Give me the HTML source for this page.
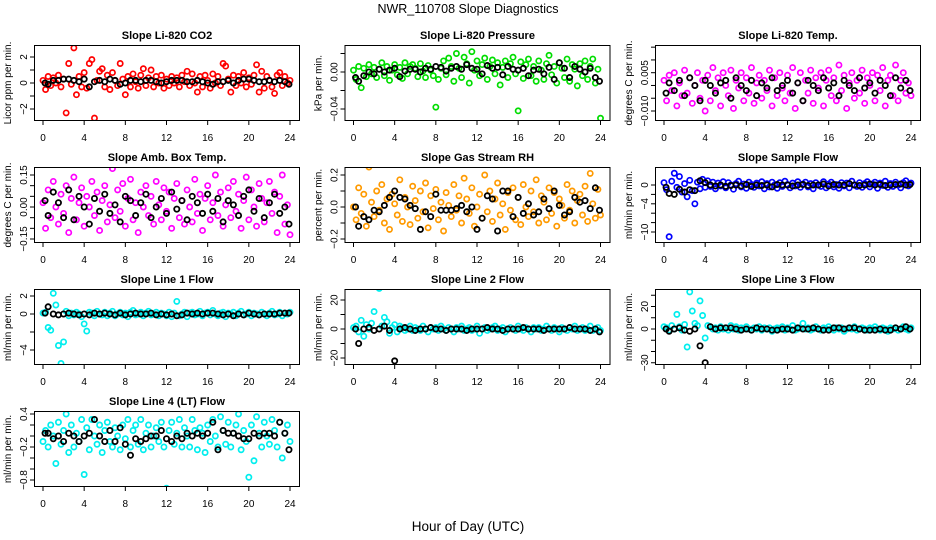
<!DOCTYPE html>
<html><head><meta charset="utf-8"><style>
body{margin:0;background:#fff;}
svg{display:block;font-family:"Liberation Sans",sans-serif;}
</style></head><body>
<svg id="chart" width="936" height="540">
<text x="468" y="13" text-anchor="middle" font-size="12.5">NWR_110708  Slope Diagnostics</text>
<text x="468" y="531" text-anchor="middle" font-size="13.5">Hour of Day (UTC)</text>
</svg>
<script>
const hours=[0,0.25,0.5,0.75,1,1.25,1.5,1.75,2,2.25,2.5,2.75,3,3.25,3.5,3.75,4,4.25,4.5,4.75,5,5.25,5.5,5.75,6,6.25,6.5,6.75,7,7.25,7.5,7.75,8,8.25,8.5,8.75,9,9.25,9.5,9.75,10,10.25,10.5,10.75,11,11.25,11.5,11.75,12,12.25,12.5,12.75,13,13.25,13.5,13.75,14,14.25,14.5,14.75,15,15.25,15.5,15.75,16,16.25,16.5,16.75,17,17.25,17.5,17.75,18,18.25,18.5,18.75,19,19.25,19.5,19.75,20,20.25,20.5,20.75,21,21.25,21.5,21.75,22,22.25,22.5,22.75,23,23.25,23.5,23.75,24];
const blackHours=[0.2,0.5,1,1.5,2,2.5,3,3.5,4,4.5,5,5.5,6,6.5,7,7.5,8,8.5,9,9.5,10,10.5,11,11.5,12,12.5,13,13.5,14,14.5,15,15.5,16,16.5,17,17.5,18,18.5,19,19.5,20,20.5,21,21.5,22,22.5,23,23.5,23.9];
const xTicks=[0,4,8,12,16,20,24];

const co2=[0.2,-0.5,0.5,-0.2,0.4,0.0,0.6,-0.3, 0.3,-2.3,1.5,-0.1,2.7,-0.9,0.5,-0.3, 0.8,-0.4,1.5,1.8,-2.7,0.2,0.9,1.1, -0.3,0.6,-0.5,0.8,0.2,-0.2,1.5,0.3, -0.9,0.5,-0.3,0.7,0.1,-0.4,0.6,1.1, -0.2,0.4,1.0,-0.3,0.5,0.0,0.6,-0.4, 0.3,-0.2,0.5,0.0,0.4,-0.3,0.6,0.1, 0.9,-0.2,0.7,0.0,-0.7,0.5,-0.3,0.6, 0.2,-0.4,0.7,0.0,0.5,-0.2,1.5,1.3, 0.3,-0.7,0.6,-0.2,0.5,0.0,0.8,-0.3, 0.4,-0.1,0.6,1.4,-0.7,0.9,-0.4,0.5, 0.2,-0.3,-0.8,0.6,0.8,-0.2,0.5,0.0, 0.2];
const co2Avg=[0.0,-0.1,0.2,0.2,0.3,0.3,0.2,0.1,0.3,-0.3,0.1,0.2,0.1,0.3,0.2,-0.1,0.0,0.2,0.2,0.1,0.2,0.2,0.1,0.0,0.1,0.2,0.2,0.2,0.1,0.1,0.2,0.1,0.0,-0.1,0.1,0.1,0.2,0.0,0.2,0.3,0.3,0.2,0.1,0.1,0.2,0.1,0.2,0.1,-0.1];
const press=[.002,-.008,.006,-.017,.004,-.005,.008,-.002, .005,-.006,.003,.010,-.004,.006,-.009,.002, .008,-.003,.005,-.007,.010,-.002,.006,.008, .004,-.005,.009,.001,-.006,.007,.002,-.004, -.038,-.008,.004,.012,-.003,.015,.006,-.010, .020,.004,-.006,.016,.009,-.012,.022,.002, .012,-.004,.008,.015,-.008,.006,.013,-.002, .010,-.014,.005,.012,-.006,.009,.016,-.002, -.042,.011,-.007,.008,.014,-.004,.006,-.010, .012,.002,-.008,.009,.018,-.003,.006,-.012, .010,.004,-.006,.014,-.010,.008,.003,-.015, .009,-.004,.012,-.008,.006,.014,-.012,.003, -.050];
const pressAvg=[-.006,-.010,-.004,.000,-.002,.003,.000,.002,.004,-.005,.001,.003,.003,.000,.004,.003,.006,.005,.001,.004,.006,.003,.008,.004,.003,-.002,.007,.004,.005,-.003,.006,.003,.002,.004,-.004,.002,.003,-.002,.005,-.008,.010,.004,-.006,.006,.003,.000,.004,-.006,-.010];
const temp=[.002,-.006,.004,-.002,.005,-.008,.001,-.004, .006,-.003,.003,-.007,.000,.005,-.005,.002, -.010,.004,-.006,.007,-.002,.003,-.008,.005, .000,-.004,.006,-.009,.002,-.001,.005,-.006, .003,-.003,.007,-.007,.001,.004,-.005,.002, -.002,.006,-.008,.003,-.004,.005,-.001,-.006, .004,-.003,.007,-.009,.001,.005,-.006,.002, -.003,.006,-.007,.003,-.001,.005,-.008,.002, .006,-.004,.003,-.006,.008,-.002,.004,-.009, .001,.005,-.005,.002,-.003,.006,-.007,.003, .000,.005,-.006,.004,-.002,.007,-.008,.002, .004,-.004,.008,-.006,.002,.005,-.003,.001, -.004];
const tempAvg=[-.003,.001,-.002,.002,-.004,.003,.000,-.006,.002,.000,-.003,.001,.002,-.005,.003,.000,-.002,.002,-.004,.001,-.001,.003,-.002,.000,.002,-.003,.001,-.006,.002,.000,-.002,.003,-.001,.001,-.004,.002,.000,-.002,.003,-.001,.001,-.003,.002,.000,-.004,.003,-.001,.002,-.002];
const amb=[.02,-.10,.08,-.05,.12,.00,-.08,.06, -.03,.10,-.12,.04,.14,-.06,.02,.09, -.09,.05,.00,.12,-.04,.07,-.11,.03, .10,-.07,.01,.18,-.05,.08,-.02,.11, -.09,.04,.13,-.06,.02,-.12,.07,.00, .10,-.04,.05,-.08,.12,.01,-.06,.09, -.02,.07,-.10,.04,.11,-.05,.03,-.08, .08,.00,-.07,.13,-.03,.06,-.11,.04, .10,-.06,.02,.15,-.04,.07,-.09,.01, .09,-.05,.12,-.02,.06,-.10,.03,.14, -.06,.08,.00,-.09,.11,.04,-.07,.02, .12,-.03,.07,-.12,.05,.15,-.08,.01, -.13];
const ambAvg=[.03,-.04,.07,.02,-.05,.08,-.06,.05,.00,-.08,.04,-.02,.06,-.03,.01,-.07,.05,.03,-.04,.02,.06,-.05,.00,.04,-.03,.07,-.01,.03,-.06,.05,.02,-.03,.06,-.02,.04,-.07,.03,.01,-.04,.05,.08,-.02,.04,-.05,.02,.06,-.03,.00,-.08];
const rh=[.00,-.08,.12,-.04,.08,-.12,.25,.03, -.06,.10,-.02,.14,-.10,.05,-.14,.08, .02,-.05,.17,-.09,.06,.00,-.11,.13, .04,-.07,.10,-.03,.15,-.13,.07,-.01, .11,-.08,.03,-.15,.09,.01,-.06,.14, -.02,.07,-.10,.18,.05,-.04,.12,-.12, .00,.08,-.07,.20,-.03,.10,-.09,.05, .15,-.05,.02,-.14,.09,-.02,.12,-.08, .06,-.11,.14,.00,-.06,.10,-.03,.17, -.10,.07,.03,-.08,.12,-.04,.09,-.12, .05,.01,-.07,.14,-.02,.10,-.10,.04, .08,-.05,.13,-.09,.21,.02,-.07,.11, -.05];
const rhAvg=[.00,-.12,-.06,-.08,-.02,-.03,.01,.06,.10,.06,.05,.01,-.01,-.14,-.03,-.06,.08,-.02,-.02,-.02,-.01,.01,-.03,.00,-.14,-.07,.07,.05,-.15,.10,.10,-.06,.06,-.04,.02,-.05,-.03,.05,-.01,.10,.01,-.05,-.03,.06,.03,.04,-.01,.12,-.02];
const sflow=[0.5,-1.0,-11,0.8,2.5,-0.5,1.8,-1.5, 0.3,-2.5,1.0,-1.2,-4,0.6,-0.8,1.2, -0.5,0.9,-0.3,0.6,-0.8,0.4,-0.2,0.7, -0.6,0.5,0.0,-0.9,0.3,0.8,-0.4,0.2, -0.7,0.6,0.1,-0.5,0.4,-0.2,0.7,-0.8, 0.3,-0.4,0.6,0.0,-0.7,0.5,-0.3,0.8, 0.1,-0.6,0.4,-0.2,0.7,-0.5,0.2,0.6, -0.4,0.3,-0.8,0.5,0.0,-0.3,0.7,-0.6, 0.2,0.6,-0.4,0.1,-0.7,0.5,-0.2,0.4, -0.6,0.8,0.0,-0.3,0.5,-0.5,0.3,0.7, -0.4,0.2,0.6,-0.7,0.4,-0.1,0.8,-0.5, 0.3,-0.3,0.6,0.0,-0.6,0.5,0.9,-0.2, 0.4];
const sflowAvg=[-0.5,-1.8,-2.0,-0.9,-1.5,-1.0,-1.2,0.9,0.5,0.0,-0.2,0.0,-0.3,-0.1,0.0,-0.2,0.1,-0.3,0.0,-0.1,0.0,-0.4,0.1,0.0,0.0,-0.2,0.0,0.1,-0.1,0.0,0.0,0.2,-0.2,0.1,0.0,0.0,0.3,0.0,-0.1,0.0,0.2,0.0,0.1,-0.1,0.0,0.1,0.2,0.0,0.1];
const l1=[0.1,0.2,-1.5,-1.8,2.3,1.0,-3.5,-5.5, -3.1,0.3,-0.2,0.1,-0.1,0.2,0.0,-0.3, -1.1,-1.9,0.2,0.1,-0.2,0.3,0.0,-0.1, 0.2,-0.2,0.1,0.3,-0.2,0.0,0.2,-0.1, 0.1,-0.3,0.2,0.4,-0.1,0.0,0.2,-0.2, 0.1,0.3,-0.1,0.0,0.2,-0.2,0.1,0.0, -0.2,0.2,-0.3,0.1,1.4,-0.2,0.0,0.2, -0.3,0.1,0.2,-0.1,0.0,0.3,-0.2,0.1, 0.2,-0.1,0.4,0.0,-0.2,0.1,0.2,-0.3, 0.1,0.0,0.2,-0.2,0.1,0.3,-0.1,0.0, 0.2,-0.2,0.1,0.0,-0.1,0.2,0.0,-0.2, 0.1,0.3,-0.1,0.0,0.2,-0.2,0.1,0.0, 0.2];
const l1Avg=[0.1,0.8,0.0,-0.1,0.0,0.1,0.0,-0.1,0.0,-0.1,0.1,0.0,0.1,0.0,-0.1,0.1,-0.1,0.0,0.1,0.0,0.0,0.1,-0.1,0.0,-0.1,0.0,-0.2,-0.1,0.1,0.0,0.1,0.0,0.1,0.1,0.0,-0.1,0.0,-0.2,0.0,-0.1,0.1,0.0,-0.1,0.0,0.0,0.0,0.1,0.1,0.1];
const l2=[1,2,-2,6,-5,3,0,4, 12,30,28,2,8,5,-3,1, 3,-2,2,1,-1,0,2,-1, 1,0,-1,2,0,-2,1,0, 1,-1,2,0,-1,1,0,-2, 1,0,2,-1,0,1,-1,0, 2,-3,0,1,-1,0,1,2, -1,0,1,-2,0,1,0,-1, 2,0,-1,1,0,-2,1,0, 1,-1,0,2,0,-1,1,0, -2,1,0,-1,1,0,2,-1, 0,1,-1,0,2,-1,0,1, -1];
const l2Avg=[0,-10,0,1,-1,0,2,-1,-22,0,1,0,-1,0,0,1,0,0,-1,0,0,0,-1,0,0,0,1,0,0,-1,0,0,0,1,0,0,0,-1,0,0,0,0,1,0,0,0,-1,0,-2];
const l3=[2,1,-1,3,0,13,2,-1, 4,-16,33,16,5,3,25,12, -8,3,2,0,1,-1,2,0, 1,-1,3,0,2,-1,1,0, 2,0,-1,1,0,2,-1,1, 0,1,-2,0,1,0,2,-1, 1,0,3,-1,0,1,5,0, 1,-1,0,2,0,-1,1,0, 2,0,-1,1,0,1,-2,0, 1,0,2,-1,0,1,0,-1, 1,0,2,0,-1,1,0,-2, 1,0,1,-1,0,2,0,-1, 1];
const l3Avg=[0,-2,0,1,-1,-2,0,-15,-30,2,0,1,1,1,0,-1,0,-1,1,0,0,-1,-1,0,0,-1,1,0,0,1,0,-1,-1,1,1,0,1,1,0,-1,-1,-1,0,-1,-1,1,0,2,0];
const l4=[-0.1,0.1,-0.2,0.2,0.0,-0.5,0.25,-0.15, 0.1,0.4,-0.3,0.2,-0.2,0.05,-0.1,0.3, -0.7,0.15,-0.25,0.3,0.0,-0.15,0.2,-0.3, 0.1,0.25,-0.1,-0.2,0.15,0.0,-0.25,0.2, -0.05,0.3,-0.2,0.1,0.2,-0.15,0.3,-0.25, 0.05,0.2,-0.2,0.0,0.15,-0.1,0.25,-0.2, -0.95,0.1,0.25,-0.15,0.05,0.3,-0.2,0.15, 0.0,-0.2,0.3,0.1,-0.25,0.15,0.05,-0.3, 0.2,-0.1,0.3,0.0,-0.2,0.35,0.1,-0.15, 0.25,-0.2,0.05,0.2,0.4,-0.25,0.1,-0.1, -0.75,0.2,-0.45,0.35,0.05,-0.2,0.25,0.0, -0.15,0.3,0.1,-0.2,0.25,-0.4,0.05,0.2, -0.1];
const l4Avg=[0.05,0.05,-0.05,0.0,-0.1,0.05,0.0,-0.1,0.0,0.05,0.3,0.0,-0.1,0.1,-0.1,0.15,-0.15,-0.35,-0.05,-0.1,-0.05,0.0,0.0,0.1,-0.05,-0.1,0.0,-0.05,0.05,0.0,0.05,0.0,0.05,0.25,-0.25,0.1,0.05,0.05,0.0,-0.05,-0.05,0.05,0.0,0.05,0.05,0.0,0.25,0.05,-0.25];

const panels=[
 {id:'co2',title:'Slope Li-820 CO2',ylab:'Licor ppm per min.',col:0,row:0,color:'#ff0000',vals:co2,avg:co2Avg,v0:0,p0:83,v1:2,p1:57,ticks:[-2,-1,0,1,2],labs:['\u22122','','0','','2']},
 {id:'pressure',title:'Slope Li-820 Pressure',ylab:'kPa per min.',col:1,row:0,color:'#00dd00',vals:press,avg:pressAvg,v0:0,p0:72,v1:-0.04,p1:109,ticks:[0.02,0,-0.02,-0.04],labs:['','0.00','','\u22120.04']},
 {id:'temp',title:'Slope Li-820 Temp.',ylab:'degrees C per min.',col:2,row:0,color:'#ff00ff',vals:temp,avg:tempAvg,v0:0.005,p0:72.7,v1:-0.010,p1:111,ticks:[0.015,0.010,0.005,0,-0.005,-0.010],labs:['','','0.005','','','\u22120.010']},
 {id:'amb-box-temp',title:'Slope Amb. Box Temp.',ylab:'degrees C per min.',col:0,row:1,color:'#ff00ff',vals:amb,avg:ambAvg,v0:0,p0:207,v1:0.15,p1:175,ticks:[0.15,0.10,0.05,0,-0.05,-0.10,-0.15],labs:['0.15','','','0.00','','','\u22120.15']},
 {id:'gas-rh',title:'Slope Gas Stream RH',ylab:'percent per min.',col:1,row:1,color:'#ff9a00',vals:rh,avg:rhAvg,v0:0,p0:207,v1:0.2,p1:175,ticks:[0.2,0.1,0,-0.1,-0.2],labs:['0.2','','0.0','','\u22120.2']},
 {id:'sample-flow',title:'Slope Sample Flow',ylab:'ml/min per min.',col:2,row:1,color:'#0000ff',vals:sflow,avg:sflowAvg,v0:0,p0:185,v1:-10,p1:232,ticks:[0,-2,-4,-6,-8,-10],labs:['0','','\u22124','','','\u221210']},
 {id:'line1-flow',title:'Slope Line 1 Flow',ylab:'ml/min per min.',col:0,row:2,color:'#00eeee',vals:l1,avg:l1Avg,v0:0,p0:314,v1:2,p1:296,ticks:[2,0,-2,-4],labs:['2','0','','\u22124']},
 {id:'line2-flow',title:'Slope Line 2 Flow',ylab:'ml/min per min.',col:1,row:2,color:'#00eeee',vals:l2,avg:l2Avg,v0:0,p0:329,v1:20,p1:300,ticks:[20,10,0,-10,-20],labs:['20','','0','','\u221220']},
 {id:'line3-flow',title:'Slope Line 3 Flow',ylab:'ml/min per min.',col:2,row:2,color:'#00eeee',vals:l3,avg:l3Avg,v0:0,p0:329,v1:20,p1:306.5,ticks:[30,20,10,0,-10,-20,-30],labs:['','20','','0','','','\u221230']},
 {id:'line4-flow',title:'Slope Line 4 (LT) Flow',ylab:'ml/min per min.',col:0,row:3,color:'#00eeee',vals:l4,avg:l4Avg,v0:0,p0:436,v1:0.4,p1:414,ticks:[0.4,0.2,0,-0.2,-0.4,-0.6,-0.8],labs:['0.4','','','\u22120.2','','','\u22120.8']}
];

const NS='http://www.w3.org/2000/svg';
const svg=document.getElementById('chart');
function mk(tag,attrs,parent){const e=document.createElementNS(NS,tag);for(const k in attrs)e.setAttribute(k,attrs[k]);(parent||svg).appendChild(e);return e;}

panels.forEach(p=>{
  const L=34+p.col*310.5, R=L+266, T=45+p.row*122, B=T+76;
  const x0=L+9, xs=(247)/24;
  const xf=h=>x0+h*xs;
  const yf=v=>p.p0+(v-p.v0)*(p.p1-p.p0)/(p.v1-p.v0);
  const g=mk('g',{});
  
  
  const t=mk('text',{x:(L+R)/2,y:T-6,'text-anchor':'middle','font-size':'11','font-weight':'bold'},g);
  t.textContent=p.title;
  
  
  const cp=mk('clipPath',{id:'cp'+p.id},g);
  mk('rect',{x:L,y:T,width:266,height:76},cp);
  const pts=mk('g',{'clip-path':'url(#cp'+p.id+')'},g);
  
  
  p.vals.forEach((v,i)=>{
    if(i>=hours.length)return;
    const c=mk('circle',{cx:xf(hours[i]),cy:yf(v),r:2.6,fill:'none',stroke:p.color,'stroke-width':1.7},pts);
    
    
  });
  const bk=mk('g',{'clip-path':'url(#cp'+p.id+')'},g);
  
  
  p.avg.forEach((v,i)=>{
    if(i>=blackHours.length)return;
    const c=mk('circle',{cx:xf(blackHours[i]),cy:yf(v),r:2.6,fill:'none',stroke:'#000','stroke-width':1.8},bk);
    
    
  });
  const box=mk('rect',{x:L+0.5,y:T+0.5,width:265,height:75,fill:'none',stroke:'#000','stroke-width':1},g);
  
  
  // x axis
  const xa=mk('g',{},g);
  
  
  xTicks.forEach(h=>{
    mk('line',{x1:xf(h),x2:xf(h),y1:B,y2:B+4,stroke:'#000'},xa);
    const tl=mk('text',{x:xf(h),y:B+20,'text-anchor':'middle','font-size':'10'},xa);
    tl.textContent=h;
    
    
  });
  // y axis
  const ya=mk('g',{},g);
  
  
  p.ticks.forEach((v,i)=>{
    const y=yf(v);
    if(y<T-1||y>B+1)return;
    mk('line',{x1:L-4,x2:L,y1:y,y2:y,stroke:'#000'},ya);
    if(p.labs[i]){
      const tl=mk('text',{x:0,y:0,'text-anchor':'middle','font-size':'10',transform:`translate(${L-7},${y}) rotate(-90)`},ya);
      tl.textContent=p.labs[i];
      
      
    }
  });
  const yl=mk('text',{x:0,y:0,'text-anchor':'middle','font-size':'10',transform:`translate(${L-23},${(T+B)/2}) rotate(-90)`},g);
  yl.textContent=p.ylab;
  
  
});
</script>
</body></html>
